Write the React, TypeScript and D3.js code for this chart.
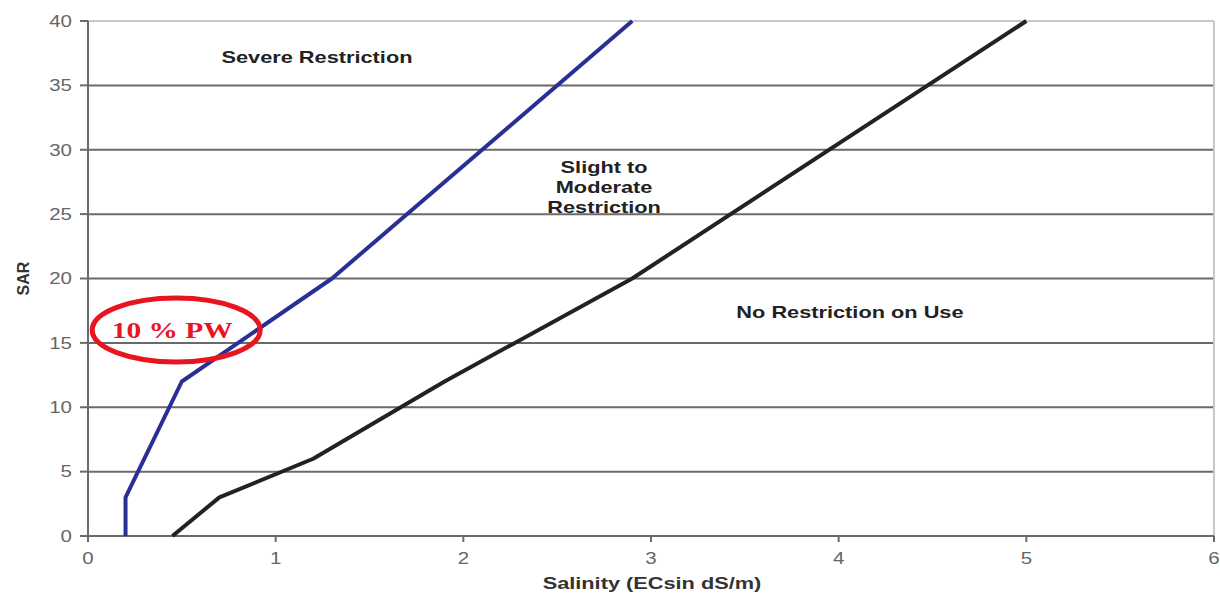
import React, { useMemo } from 'react';
import * as d3 from 'd3';

// boundary curves: [salinity, SAR]
const severeLimit: [number, number][] = [[0.2, 0], [0.2, 3], [0.5, 12], [1.3, 20], [2.9, 40]];
const slightLimit: [number, number][] = [[0.45, 0], [0.7, 3], [1.2, 6], [1.9, 12], [2.9, 20], [5.0, 40]];
const xTicks = [0, 1, 2, 3, 4, 5, 6];
const yTicks = [0, 5, 10, 15, 20, 25, 30, 35, 40];
const zoneLabels = [
  { lines: ['Severe Restriction'], x: 1.22, y: 36.7 },
  { lines: ['Slight to', 'Moderate', 'Restriction'], x: 2.75, y: 28.2 },
  { lines: ['No Restriction on Use'], x: 4.06, y: 16.9 },
];
const marker = { text: '10 % PW', x: 0.47, y: 16 };

const W = 1220;
const H = 595;
const M = { left: 88, right: 6, top: 21, bottom: 59 };
const STRETCH = 1.28; // the source image is stretched sideways

function Wide({ x, y, children, ...rest }: any) {
  return (
    <g transform={`translate(${x},${y}) scale(${STRETCH},1)`}>
      <text x={0} y={0} {...rest}>{children}</text>
    </g>
  );
}

export default function App() {
  const x = useMemo(() => d3.scaleLinear().domain([0, 6]).range([M.left, W - M.right]), []);
  const y = useMemo(() => d3.scaleLinear().domain([0, 40]).range([H - M.bottom, M.top]), []);
  const line = d3.line<[number, number]>().x(d => x(d[0])).y(d => y(d[1]));
  const font = 'Arial, "Liberation Sans", sans-serif';

  return (
    <svg width={W} height={H} style={{ position: 'absolute', left: 0, top: 0, background: '#fff' }} fontFamily={font}>
      {/* grid */}
      {yTicks.map(t => (
        <g key={t}>
          {t > 0 && (
            <line x1={x(0)} x2={x(6)} y1={y(t)} y2={y(t)}
              stroke={t === 40 ? '#c8c8c8' : '#6a6a6a'} strokeWidth={2} />
          )}
          <line x1={x(0) - 8} x2={x(0)} y1={y(t)} y2={y(t)} stroke="#6a6a6a" strokeWidth={2} />
          <Wide x={x(0) - 16} y={y(t)} dy="0.36em" textAnchor="end" fontSize={16} fill="#666">{t}</Wide>
        </g>
      ))}
      <line x1={x(6)} x2={x(6)} y1={y(40)} y2={y(0)} stroke="#c8c8c8" strokeWidth={2} />
      <line x1={x(0)} x2={x(0)} y1={y(40)} y2={y(0)} stroke="#6a6a6a" strokeWidth={2} />
      <line x1={x(0)} x2={x(6)} y1={y(0)} y2={y(0)} stroke="#6a6a6a" strokeWidth={2} />
      {xTicks.map(t => (
        <g key={t}>
          <line x1={x(t)} x2={x(t)} y1={y(0)} y2={y(0) + 6} stroke="#6a6a6a" strokeWidth={2} />
          <Wide x={x(t)} y={y(0) + 22} dy="0.36em" textAnchor="middle" fontSize={16} fill="#666">{t}</Wide>
        </g>
      ))}

      {/* curves */}
      <path d={line(severeLimit) || ''} fill="none" stroke="#2a2f94" strokeWidth={4} strokeLinejoin="round" />
      <path d={line(slightLimit) || ''} fill="none" stroke="#222" strokeWidth={4} strokeLinejoin="round" />

      {/* zone labels */}
      {zoneLabels.map((z, i) => (
        <g key={i} transform={`translate(${x(z.x)},${y(z.y)}) scale(${STRETCH},1)`}>
          <text textAnchor="middle" fontSize={17} fontWeight="bold" fill="#222">
            {z.lines.map((l, j) => (
              <tspan key={j} x={0} dy={j === 0 ? 0 : 20}>{l}</tspan>
            ))}
          </text>
        </g>
      ))}

      {/* axis titles */}
      <Wide x={652} y={H - 6} textAnchor="middle" fontSize={17} fontWeight="bold" fill="#333">
        Salinity (ECsin dS/m)
      </Wide>
      <text transform={`translate(29, ${y(20)}) rotate(-90)`} textAnchor="middle" fontSize={16} fontWeight="bold" fill="#333">
        SAR
      </text>

      {/* 10 % PW marker */}
      <ellipse cx={x(marker.x)} cy={y(marker.y)} rx={84} ry={32} fill="none" stroke="#e8151f" strokeWidth={5} />
      <Wide x={x(marker.x) - 4} y={y(marker.y)} dy="0.35em" textAnchor="middle" fontSize={23} fontWeight="bold"
        fill="#e8151f" fontFamily='"Liberation Serif", "DejaVu Serif", serif'>{marker.text}</Wide>
    </svg>
  );
}
